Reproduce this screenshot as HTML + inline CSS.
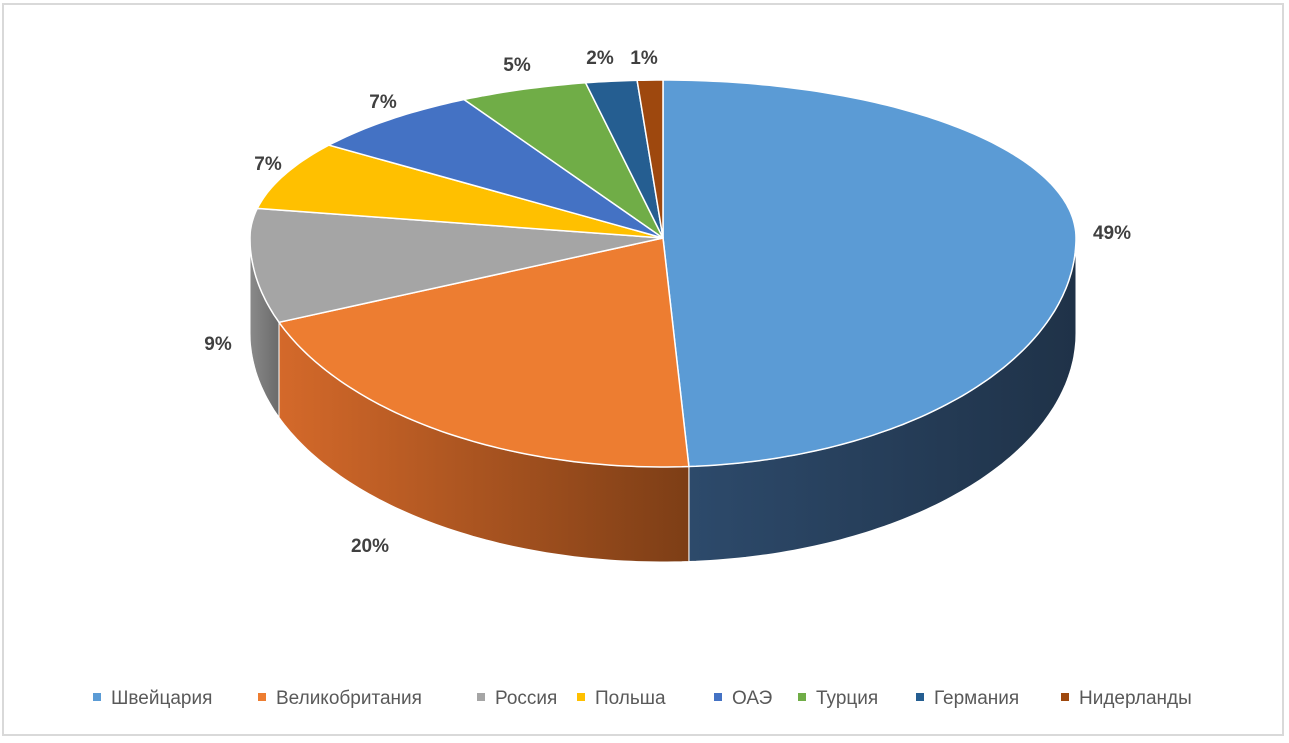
<!DOCTYPE html>
<html><head><meta charset="utf-8"><style>
body{margin:0;width:1289px;height:743px;background:#fff;overflow:hidden;font-family:"Liberation Sans","DejaVu Sans",sans-serif}
#frame{position:absolute;left:2px;top:3px;width:1282px;height:733px;border:2px solid #d9d9d9;box-sizing:border-box}
</style></head><body>
<div id="frame"></div>
<svg id="chart" width="1289" height="743" style="position:absolute;left:0;top:0">
<defs>
<linearGradient id="gBlue" x1="0" x2="1" y1="0" y2="0"><stop offset="0" stop-color="#2d4a6b"/><stop offset="1" stop-color="#1f3248"/></linearGradient>
<linearGradient id="gOrange" x1="0" x2="1" y1="0" y2="0"><stop offset="0" stop-color="#d4692a"/><stop offset="1" stop-color="#7d3e16"/></linearGradient>
<linearGradient id="gGray" x1="0" x2="1"><stop offset="0" stop-color="#8a8a8a"/><stop offset="1" stop-color="#6a6a6a"/></linearGradient>
</defs>
</svg>
<script>
const categories=["Швейцария","Великобритания","Россия","Польша","ОАЭ","Турция","Германия","Нидерланды"];
const values=[49,20,9,7,7,5,2,1];
const labels=["49%","20%","9%","7%","7%","5%","2%","1%"];
const colors=["#5b9bd5","#ed7d31","#a5a5a5","#ffc000","#4472c4","#70ad47","#255e91","#9e480e"];
const sideFill=["url(#gBlue)","url(#gOrange)","url(#gGray)","#bf9000","#2f528f","#507e32","#1a4268","#6e320a"];
const labelPos=[[1112,232],[370,545],[218,343],[268,163],[383,101],[517,64],[600,57],[644,57]];
const legendX=[97,262,481,581,718,802,920,1065];
const svg=document.getElementById('chart');
const NS="http://www.w3.org/2000/svg";
const cx=663,cy=238,rx=413,ryB=158,ryF=229,depth=95;
function pt(a){const t=a*Math.PI/180;const c=Math.cos(t);return [cx+rx*Math.sin(t),cy-(c>0?ryB:ryF)*c];}
function arcPts(a0,a1,dy){const p=[];const n=Math.max(2,Math.ceil((a1-a0)/1));for(let i=0;i<=n;i++){const q=pt(a0+(a1-a0)*i/n);p.push([q[0],q[1]+dy]);}return p;}
const total=values.reduce((a,b)=>a+b,0);
let acc=0;const ang=[];
values.forEach(v=>{ang.push([acc/total*360,(acc+v)/total*360]);acc+=v;});
// side walls
ang.forEach((r,i)=>{
 const a0=Math.max(r[0],90),a1=Math.min(r[1],270);
 if(a1<=a0)return;
 const top=arcPts(a0,a1,0),bot=arcPts(a0,a1,depth).reverse();
 const p=document.createElementNS(NS,'path');
 p.setAttribute('d','M'+top.concat(bot).map(q=>q[0].toFixed(1)+','+q[1].toFixed(1)).join('L')+'Z');
 p.setAttribute('fill',sideFill[i]);p.setAttribute('stroke','#fff');p.setAttribute('stroke-width','1');
 
 
 svg.appendChild(p);
});
// top faces
ang.forEach((r,i)=>{
 const pts=arcPts(r[0],r[1],0);
 const p=document.createElementNS(NS,'path');
 p.setAttribute('d','M'+cx+','+cy+'L'+pts.map(q=>q[0].toFixed(1)+','+q[1].toFixed(1)).join('L')+'Z');
 p.setAttribute('fill',colors[i]);p.setAttribute('stroke','#fff');p.setAttribute('stroke-width','1.5');
 
 
 svg.appendChild(p);
});
labels.forEach((l,i)=>{
 const t=document.createElementNS(NS,'text');
 t.setAttribute('x',labelPos[i][0]);t.setAttribute('y',labelPos[i][1]+7);
 t.setAttribute('text-anchor','middle');t.setAttribute('font-size','19');t.setAttribute('font-weight','bold');t.setAttribute('fill','#404040');
 t.textContent=l;
 
 
 svg.appendChild(t);
});
categories.forEach((c,i)=>{
 const g=document.createElementNS(NS,'g');
 
 
 const r=document.createElementNS(NS,'rect');
 r.setAttribute('x',legendX[i]-4);r.setAttribute('y',693);r.setAttribute('width',8);r.setAttribute('height',8);r.setAttribute('fill',colors[i]);
 
 
 const t=document.createElementNS(NS,'text');
 t.setAttribute('x',legendX[i]+14);t.setAttribute('y',704);t.setAttribute('font-size','19');t.setAttribute('fill','#595959');
 t.textContent=c;
 
 
 g.appendChild(r);g.appendChild(t);svg.appendChild(g);
});
</script>
</body></html>
